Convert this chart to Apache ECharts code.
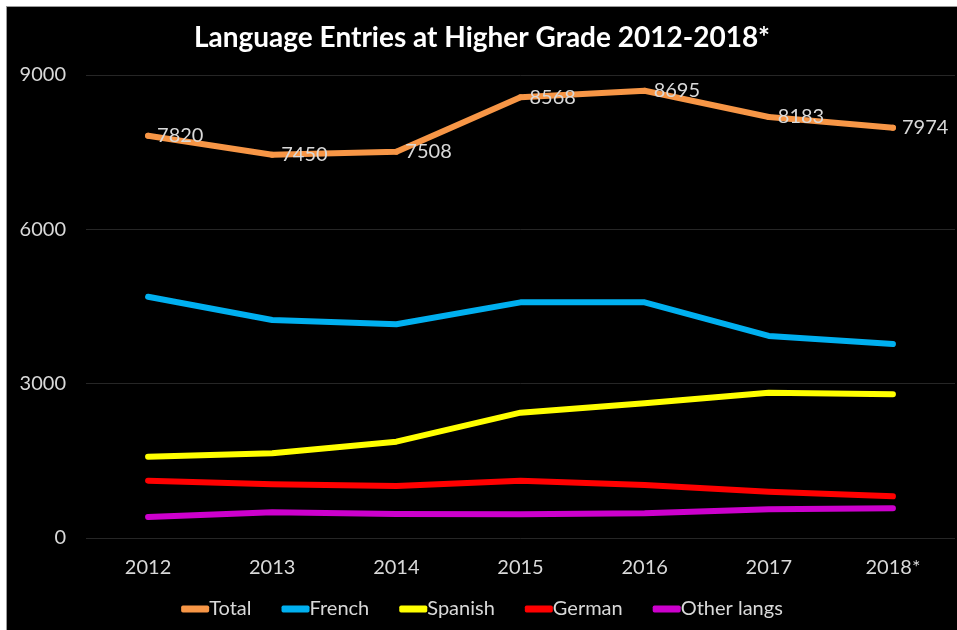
<!DOCTYPE html>
<html>
<head>
<meta charset="utf-8">
<title>Language Entries at Higher Grade 2012-2018*</title>
<script src="https://cdn.jsdelivr.net/npm/echarts@6/dist/echarts.min.js"></script>
<style>
  html, body { margin: 0; padding: 0; background: #ffffff; width: 957px; height: 630px; overflow: hidden; }
  #chart { position: absolute; left: 6px; top: 6px; width: 951px; height: 624px; background: #000000; border-left: 1px solid #9a9a9a; border-top: 1px solid #9a9a9a; box-sizing: border-box; }
</style>
</head>
<body>
<div id="chart"></div>
<script>
// Higher Grade language entries by year
const years = ['2012', '2013', '2014', '2015', '2016', '2017', '2018*'];
const total = [7820, 7450, 7508, 8568, 8695, 8183, 7974];
const french = [4690, 4238, 4155, 4581, 4581, 3927, 3771];
const spanish = [1580, 1646, 1872, 2436, 2618, 2825, 2793];
const german = [1114, 1043, 1011, 1114, 1030, 900, 810];
const otherLangs = [408, 499, 467, 460, 480, 558, 577];
const yTicks = [0, 3000, 6000, 9000];

const chart = echarts.init(document.getElementById('chart'), null, { renderer: 'canvas' });
const font = 'Lato, "Open Sans", sans-serif';
const textGrey = '#d9d9d9';

function lineSeries(name, data, color, withLabels) {
  return {
    name: name,
    type: 'line',
    data: data,
    symbol: withLabels ? 'circle' : 'none',
    showSymbol: withLabels,
    symbolSize: 6,
    lineStyle: { color: color, width: 6, cap: 'round', join: 'round' },
    itemStyle: { color: color, borderWidth: 0 },
    label: withLabels ? {
      show: true,
      position: 'right',
      distance: 6,
      color: textGrey,
      fontFamily: font,
      fontSize: 20
    } : { show: false },
    emphasis: { disabled: true },
    z: withLabels ? 3 : 2,
    animation: false
  };
}

chart.setOption({
  backgroundColor: '#000000',
  animation: false,
  title: {
    text: 'Language Entries at Higher Grade 2012-2018*',
    left: 'center',
    top: 12,
    textStyle: { color: '#ffffff', fontFamily: font, fontSize: 28, fontWeight: 'bold' }
  },
  legend: {
    bottom: 6,
    left: 'center',
    itemWidth: 28,
    itemHeight: 7,
    itemGap: 30,
    icon: 'roundRect',
    textStyle: { color: textGrey, fontFamily: font, fontSize: 20, padding: [0, 0, 0, -5] },
    data: ['Total', 'French', 'Spanish', 'German', 'Other langs']
  },
  grid: { left: 79, right: 2, top: 68, bottom: 92 },
  xAxis: {
    type: 'category',
    data: years,
    boundaryGap: true,
    axisLine: { show: false },
    axisTick: { show: false },
    axisLabel: { color: textGrey, fontFamily: font, fontSize: 20, margin: 20 }
  },
  yAxis: {
    type: 'value',
    min: yTicks[0],
    max: yTicks[yTicks.length - 1],
    interval: yTicks[1] - yTicks[0],
    axisLine: { show: false },
    axisTick: { show: false },
    axisLabel: { color: textGrey, fontFamily: font, fontSize: 20, margin: 20, formatter: (v) => String(v) },
    splitLine: { lineStyle: { color: '#262626', width: 1 } }
  },
  series: [
    lineSeries('Total', total, '#f79646', true),
    lineSeries('French', french, '#00b0f0', false),
    lineSeries('Spanish', spanish, '#ffff00', false),
    lineSeries('German', german, '#ff0000', false),
    lineSeries('Other langs', otherLangs, '#cc00cc', false)
  ]
});
</script>
</body>
</html>
